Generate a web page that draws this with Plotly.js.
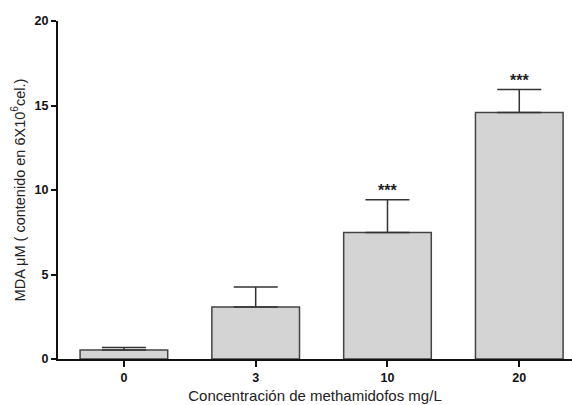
<!DOCTYPE html>
<html>
<head>
<meta charset="utf-8">
<script src="https://cdn.plot.ly/plotly-3.0.1.min.js"></script>
<style>html,body{margin:0;padding:0;background:#fff;}#chart{width:572px;height:405px;}</style>
</head>
<body>
<div id="chart"></div>
<script>
const categories = ["0", "3", "10", "20"];
const meanValues = [0.53, 3.08, 7.48, 14.58];
const errorValues = [0.15, 1.18, 1.95, 1.36];
const significance = ["", "", "***", "***"];
const yTickValues = [0, 5, 10, 15, 20];

const trace = {
  type: "bar",
  x: categories,
  y: meanValues,
  width: 0.665,
  marker: {color: "#d4d4d4", line: {color: "#444444", width: 1.5}},
  error_y: {type: "data", symmetric: false, array: errorValues, arrayminus: errorValues.map(() => 0),
            color: "#333333", thickness: 1.5, width: 22},
  hoverinfo: "none"
};

const annotations = [];
categories.forEach((c, i) => {
  if (significance[i]) {
    annotations.push({
      xref: "x", yref: "y", x: i, y: meanValues[i] + errorValues[i], text: significance[i],
      showarrow: false, yanchor: "bottom", yshift: -1,
      font: {family: "Liberation Sans, Arial, sans-serif", size: 16, weight: "bold", color: "#222"}
    });
  }
});

const layout = {
  width: 572, height: 405,
  margin: {l: 58, r: 0, t: 21, b: 46},
  paper_bgcolor: "#fff", plot_bgcolor: "#fff",
  showlegend: false,
  font: {family: "Liberation Sans, Arial, sans-serif", color: "#222"},
  xaxis: {
    type: "category", range: [-0.5, 3.4],
    showline: true, linecolor: "#111", linewidth: 2,
    ticks: "outside", ticklen: 6, tickwidth: 2, tickcolor: "#111",
    tickfont: {size: 12.5, family: "Liberation Sans, Arial, sans-serif", weight: "bold", color: "#111"},
    showgrid: false, zeroline: false,
    title: {text: "Concentración de methamidofos mg/L", font: {size: 15, color: "#222"}, standoff: 6}
  },
  yaxis: {
    range: [0, 20], tickvals: yTickValues,
    showline: true, linecolor: "#111", linewidth: 2,
    ticks: "outside", ticklen: 5, tickwidth: 2, tickcolor: "#111",
    tickfont: {size: 12.5, family: "Liberation Sans, Arial, sans-serif", weight: "bold", color: "#111"},
    showgrid: false, zeroline: false,
    title: {text: "MDA μM ( contenido en 6X10<sup>6</sup>cel.)", font: {size: 14.5, color: "#222"}, standoff: 6}
  },
  annotations: annotations
};

Plotly.newPlot("chart", [trace], layout, {staticPlot: true});
</script>
</body>
</html>
